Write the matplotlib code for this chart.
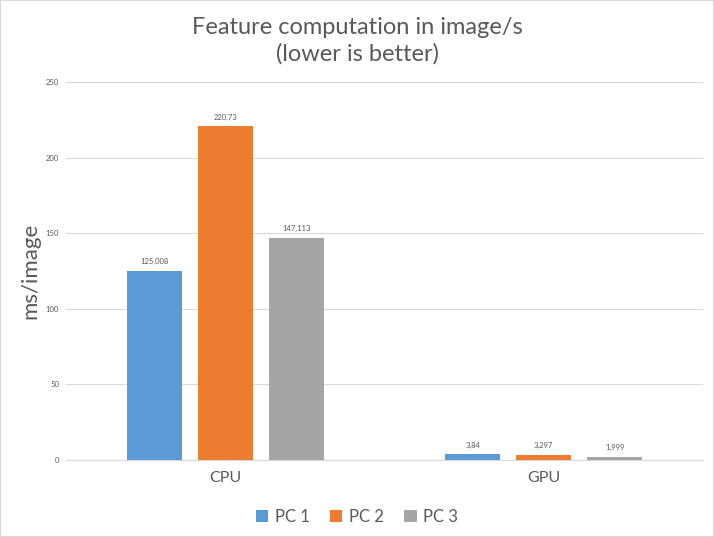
import matplotlib
matplotlib.use("Agg")
import matplotlib.pyplot as plt
import numpy as np
from matplotlib.patches import Rectangle

categories = ["CPU", "GPU"]
series = ["PC 1", "PC 2", "PC 3"]
values = {
    "PC 1": [125.008, 3.84],
    "PC 2": [220.73, 3.297],
    "PC 3": [147.113, 1.999],
}
labels = {
    "PC 1": ["125,008", "3,84"],
    "PC 2": ["220,73", "3,297"],
    "PC 3": ["147,113", "1,999"],
}
colors = ["#5B9BD5", "#ED7D31", "#A5A5A5"]
yticks = [0, 50, 100, 150, 200, 250]

plt.rcParams['font.family'] = ['Lato', 'DejaVu Sans']
txt = "#595959"

fig = plt.figure(figsize=(7.14, 5.37), dpi=100)
ax = fig.add_axes([66/714, 1-460/537, 637/714, 378/537])

x = np.arange(len(categories))
bw = 0.173
step = 0.223
for i, s in enumerate(series):
    pos = x + (i - 1) * step
    bars = ax.bar(pos, values[s], width=bw, color=colors[i], zorder=3, label=s)
    for b, lab in zip(bars, labels[s]):
        ax.annotate(lab, (b.get_x() + b.get_width()/2, b.get_height()),
                    xytext=(0, 4), textcoords="offset points",
                    ha="center", va="bottom", fontsize=5.5, color=txt)

ax.set_xlim(-0.5, 1.5)
ax.set_ylim(0, 250)
ax.set_yticks(yticks)
ax.set_yticklabels([str(t) for t in yticks], fontsize=5.5, color=txt)
ax.set_xticks(x)
ax.set_xticklabels(categories, fontsize=11.5, color=txt)
ax.tick_params(axis='both', length=0)
ax.tick_params(axis='y', pad=5)
ax.tick_params(axis='x', pad=8)
ax.grid(axis='y', color="#D9D9D9", linewidth=0.8, zorder=0)
for sp in ["top", "right", "left"]:
    ax.spines[sp].set_visible(False)
ax.spines["bottom"].set_color("#D9D9D9")
ax.spines["bottom"].set_linewidth(0.8)

ax.set_ylabel("ms/image", fontsize=16, color=txt)
ax.yaxis.set_label_coords(-26/637, 0.5)
fig.text(0.5, 1-41/537, "Feature computation in image/s\n(lower is better)",
         ha="center", va="center", fontsize=17, color=txt, linespacing=1.3)

fig.legend(loc="center", bbox_to_anchor=(0.5, 1-517/537), ncol=3, frameon=False,
           fontsize=12, labelcolor=txt, handlelength=0.75, handleheight=0.75,
           columnspacing=1.2, handletextpad=0.4)

fig.patches.append(Rectangle((0, 0), 1, 1, transform=fig.transFigure,
                             fill=False, edgecolor="#D9D9D9", linewidth=1.5))

fig.savefig("out.png", dpi=100)
